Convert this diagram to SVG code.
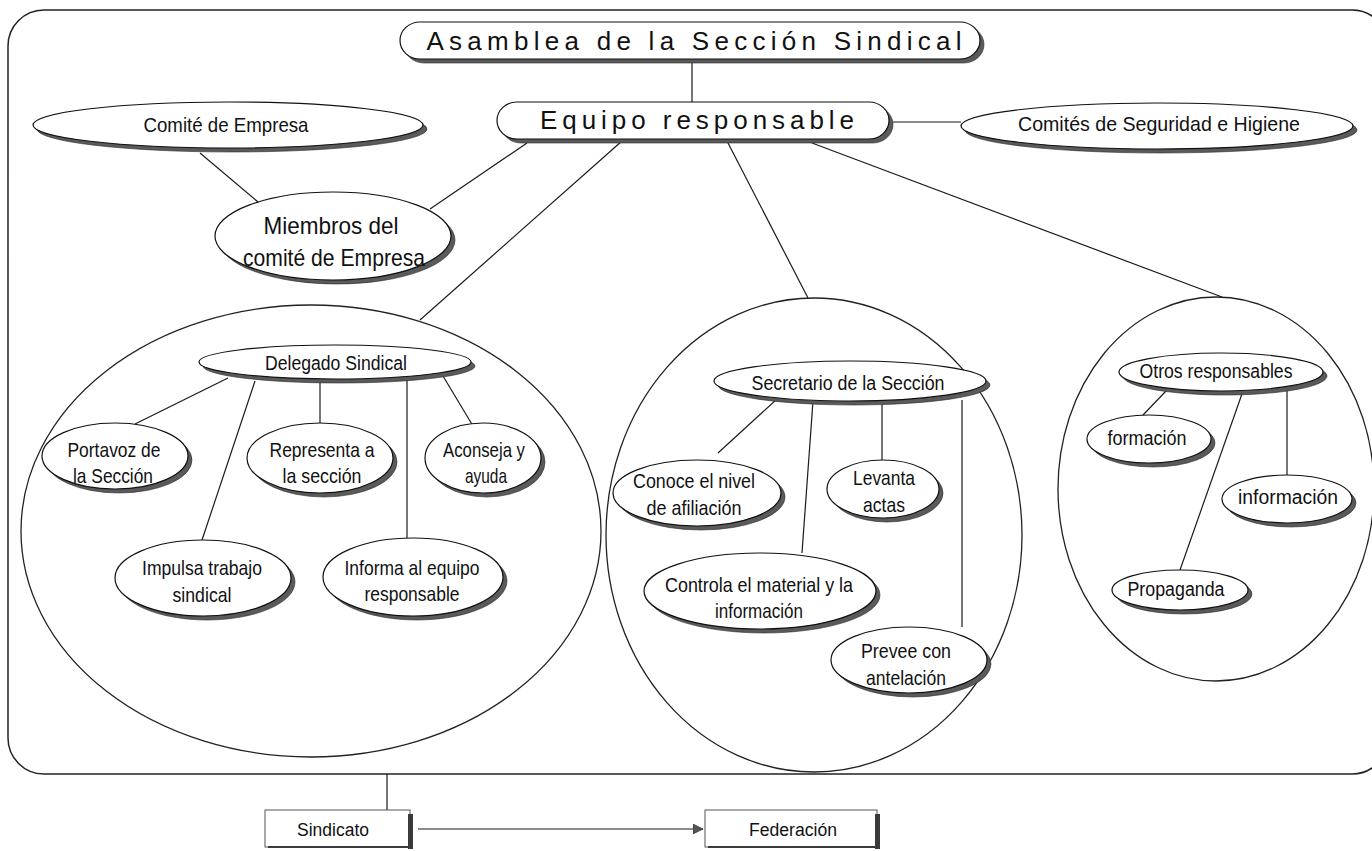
<svg xmlns="http://www.w3.org/2000/svg" width="1372" height="851" viewBox="0 0 1372 851">
<defs>
<style>
.bg{fill:#fff}
.frame{fill:none;stroke:#222;stroke-width:1.5}
.grp{fill:none;stroke:#222;stroke-width:1.3}
.n{fill:#fff;stroke:#111;stroke-width:1.2}
.sh{fill:#5a5a5a;stroke:#2a2a2a;stroke-width:0.6}
.c line,.c path{stroke:#1a1a1a;stroke-width:1.2;fill:none}
.t{font-family:"Liberation Sans",Arial,Helvetica,sans-serif;fill:#111;text-anchor:middle}
.s20{font-size:20px}
.s21{font-size:21px}
.box{fill:#fff;stroke:#555;stroke-width:1}
.bar{fill:#3a3a3a}
</style>
<marker id="arr" markerWidth="12" markerHeight="12" refX="10" refY="5" orient="auto" markerUnits="userSpaceOnUse">
<path d="M0,0 L10,5 L0,10 Z" fill="#555" stroke="#222" stroke-width="0.6"/>
</marker>
</defs>
<rect class="bg" x="0" y="0" width="1372" height="851"/>
<rect id="frame" class="frame" x="8" y="10" width="1380" height="764" rx="36" ry="36"/>

<g id="groups">
<ellipse id="grp-delegado" class="grp" cx="311" cy="531" rx="290" ry="226"/>
<ellipse id="grp-secretario" class="grp" cx="814" cy="535" rx="208" ry="237"/>
<ellipse id="grp-otros" class="grp" cx="1216" cy="489" rx="158" ry="192"/>
</g>

<g id="connectors" class="c">
<line x1="692" y1="62" x2="692" y2="102"/>
<line x1="893" y1="122" x2="961" y2="122"/>
<line x1="200" y1="153" x2="258" y2="202"/>
<line x1="527" y1="143" x2="430" y2="209"/>
<line x1="622" y1="141" x2="420" y2="320"/>
<line x1="727" y1="141" x2="808" y2="298"/>
<line x1="812" y1="143" x2="1222" y2="297"/>
<line x1="228" y1="378" x2="135" y2="424"/>
<line x1="255" y1="381" x2="202" y2="540"/>
<line x1="320" y1="380" x2="320" y2="423"/>
<line x1="407" y1="379" x2="407" y2="538"/>
<line x1="443" y1="376" x2="473" y2="426"/>
<line x1="777" y1="399" x2="718" y2="453"/>
<line x1="813" y1="401" x2="802" y2="553"/>
<line x1="882" y1="401" x2="882" y2="460"/>
<line x1="962" y1="400" x2="962" y2="627"/>
<line x1="1167" y1="390" x2="1143" y2="415"/>
<line x1="1243" y1="391" x2="1180" y2="570"/>
<line x1="1287" y1="391" x2="1287" y2="475"/>
<line x1="387" y1="774" x2="387" y2="810"/>
<line x1="418" y1="829" x2="703" y2="829" marker-end="url(#arr)"/>
</g>

<g id="n-asamblea">
<rect class="sh" x="404" y="26" width="580" height="37" rx="20" ry="19"/>
<rect class="n" x="400" y="22" width="580" height="37" rx="20" ry="19"/>
<text class="t" x="694" y="50" font-size="26" textLength="535" lengthAdjust="spacing">Asamblea de la Sección Sindical</text>
</g>
<g id="n-equipo">
<rect class="sh" x="501" y="106" width="392" height="37" rx="20" ry="19"/>
<rect class="n" x="497" y="102" width="392" height="37" rx="20" ry="19"/>
<text class="t" x="697" y="129" font-size="26" textLength="314" lengthAdjust="spacing">Equipo responsable</text>
</g>
<g id="n-comite">
<ellipse class="sh" cx="232" cy="129" rx="195" ry="23"/>
<ellipse class="n" cx="228" cy="125" rx="195" ry="23"/>
<text class="t s21" x="226" y="132" textLength="165" lengthAdjust="spacingAndGlyphs">Comité de Empresa</text>
</g>
<g id="n-seguridad">
<ellipse class="sh" cx="1161" cy="130" rx="196" ry="23"/>
<ellipse class="n" cx="1157" cy="126" rx="196" ry="23"/>
<text class="t s21" x="1159" y="131" textLength="282" lengthAdjust="spacingAndGlyphs">Comités de Seguridad e Higiene</text>
</g>
<g id="n-miembros">
<ellipse class="sh" cx="337" cy="240" rx="118" ry="44"/>
<ellipse class="n" cx="333" cy="236" rx="118" ry="44"/>
<text class="t" font-size="24" x="331" y="234" textLength="135" lengthAdjust="spacingAndGlyphs">Miembros del</text>
<text class="t" font-size="24" x="334" y="266" textLength="182" lengthAdjust="spacingAndGlyphs">comité de Empresa</text>
</g>

<g id="n-delegado">
<ellipse class="sh" cx="339" cy="366" rx="136" ry="17"/>
<ellipse class="n" cx="335" cy="362" rx="136" ry="17"/>
<text class="t s20" x="336" y="370" textLength="142" lengthAdjust="spacingAndGlyphs">Delegado Sindical</text>
</g>
<g id="n-portavoz">
<ellipse class="sh" cx="119" cy="460" rx="73" ry="33"/>
<ellipse class="n" cx="115" cy="456" rx="73" ry="33"/>
<text class="t s21" x="114" y="457" textLength="93" lengthAdjust="spacingAndGlyphs">Portavoz de</text>
<text class="t s21" x="113" y="483" textLength="80" lengthAdjust="spacingAndGlyphs">la Sección</text>
</g>
<g id="n-representa">
<ellipse class="sh" cx="324" cy="462" rx="73" ry="35"/>
<ellipse class="n" cx="320" cy="458" rx="73" ry="35"/>
<text class="t s21" x="322" y="457" textLength="105" lengthAdjust="spacingAndGlyphs">Representa a</text>
<text class="t s21" x="322" y="483" textLength="79" lengthAdjust="spacingAndGlyphs">la sección</text>
</g>
<g id="n-aconseja">
<ellipse class="sh" cx="487" cy="462" rx="58" ry="35"/>
<ellipse class="n" cx="483" cy="458" rx="58" ry="35"/>
<text class="t s21" x="484" y="457" textLength="82" lengthAdjust="spacingAndGlyphs">Aconseja y</text>
<text class="t s21" x="486" y="483" textLength="42" lengthAdjust="spacingAndGlyphs">ayuda</text>
</g>
<g id="n-impulsa">
<ellipse class="sh" cx="207" cy="582" rx="88" ry="38"/>
<ellipse class="n" cx="203" cy="578" rx="88" ry="38"/>
<text class="t s21" x="202" y="575" textLength="120" lengthAdjust="spacingAndGlyphs">Impulsa trabajo</text>
<text class="t s21" x="202" y="602" textLength="59" lengthAdjust="spacingAndGlyphs">sindical</text>
</g>
<g id="n-informa">
<ellipse class="sh" cx="417" cy="581" rx="90" ry="39"/>
<ellipse class="n" cx="413" cy="577" rx="90" ry="39"/>
<text class="t s21" x="412" y="575" textLength="135" lengthAdjust="spacingAndGlyphs">Informa al equipo</text>
<text class="t s21" x="412" y="601" textLength="95" lengthAdjust="spacingAndGlyphs">responsable</text>
</g>

<g id="n-secretario">
<ellipse class="sh" cx="854" cy="385" rx="136" ry="20"/>
<ellipse class="n" cx="850" cy="381" rx="136" ry="20"/>
<text class="t s20" x="848" y="390" textLength="193" lengthAdjust="spacingAndGlyphs">Secretario de la Sección</text>
</g>
<g id="n-conoce">
<ellipse class="sh" cx="701" cy="497" rx="84" ry="33"/>
<ellipse class="n" cx="697" cy="493" rx="84" ry="33"/>
<text class="t s21" x="694" y="488" textLength="122" lengthAdjust="spacingAndGlyphs">Conoce el nivel</text>
<text class="t s21" x="694" y="515" textLength="95" lengthAdjust="spacingAndGlyphs">de afiliación</text>
</g>
<g id="n-levanta">
<ellipse class="sh" cx="887" cy="493" rx="56" ry="29"/>
<ellipse class="n" cx="883" cy="489" rx="56" ry="29"/>
<text class="t s21" x="884" y="485" textLength="62" lengthAdjust="spacingAndGlyphs">Levanta</text>
<text class="t s21" x="884" y="512" textLength="42" lengthAdjust="spacingAndGlyphs">actas</text>
</g>
<g id="n-controla">
<ellipse class="sh" cx="764" cy="595" rx="116" ry="38"/>
<ellipse class="n" cx="760" cy="591" rx="116" ry="38"/>
<text class="t s21" x="759" y="592" textLength="188" lengthAdjust="spacingAndGlyphs">Controla el material y la</text>
<text class="t s21" x="759" y="618" textLength="88" lengthAdjust="spacingAndGlyphs">información</text>
</g>
<g id="n-prevee">
<ellipse class="sh" cx="913" cy="664" rx="78" ry="33"/>
<ellipse class="n" cx="909" cy="660" rx="78" ry="33"/>
<text class="t s21" x="906" y="658" textLength="90" lengthAdjust="spacingAndGlyphs">Prevee con</text>
<text class="t s21" x="906" y="685" textLength="80" lengthAdjust="spacingAndGlyphs">antelación</text>
</g>

<g id="n-otros">
<ellipse class="sh" cx="1225" cy="376" rx="102" ry="19"/>
<ellipse class="n" cx="1221" cy="372" rx="102" ry="19"/>
<text class="t s20" x="1216" y="378" textLength="153" lengthAdjust="spacingAndGlyphs">Otros responsables</text>
</g>
<g id="n-formacion">
<ellipse class="sh" cx="1153" cy="443" rx="62" ry="24"/>
<ellipse class="n" cx="1149" cy="439" rx="62" ry="24"/>
<text class="t s20" x="1147" y="445" textLength="79" lengthAdjust="spacingAndGlyphs">formación</text>
</g>
<g id="n-informacion">
<ellipse class="sh" cx="1291" cy="503" rx="65" ry="24"/>
<ellipse class="n" cx="1287" cy="499" rx="65" ry="24"/>
<text class="t s20" x="1288" y="504" textLength="100" lengthAdjust="spacingAndGlyphs">información</text>
</g>
<g id="n-propaganda">
<ellipse class="sh" cx="1184" cy="594" rx="68" ry="20"/>
<ellipse class="n" cx="1180" cy="590" rx="68" ry="20"/>
<text class="t s20" x="1176" y="596" textLength="97" lengthAdjust="spacingAndGlyphs">Propaganda</text>
</g>

<g id="n-sindicato">
<rect class="box" x="265" y="810" width="145" height="37"/>
<rect class="bar" x="408" y="814" width="5" height="35"/>
<rect class="bar" x="268" y="846" width="145" height="2"/>
<text class="t" font-size="18" x="333" y="836" textLength="72" lengthAdjust="spacingAndGlyphs">Sindicato</text>
</g>
<g id="n-federacion">
<rect class="box" x="705" y="810" width="172" height="37"/>
<rect class="bar" x="875" y="814" width="5" height="35"/>
<rect class="bar" x="708" y="846" width="172" height="2"/>
<text class="t" font-size="18" x="793" y="836" textLength="88" lengthAdjust="spacingAndGlyphs">Federación</text>
</g>
</svg>
